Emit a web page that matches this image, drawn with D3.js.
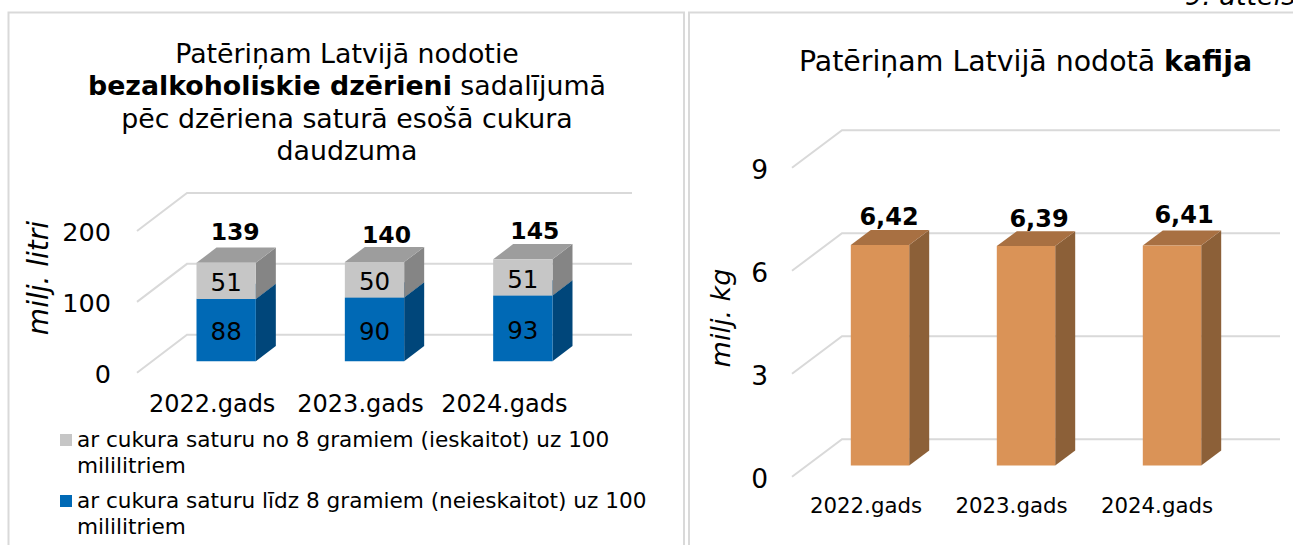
<!DOCTYPE html>
<html>
<head>
<meta charset="utf-8">
<script src="https://cdn.jsdelivr.net/npm/d3@7"></script>
<style>
  html, body { margin: 0; padding: 0; background: #fff; overflow: hidden; }
  svg { display: block; }
  text { font-family: "DejaVu Sans", Verdana, sans-serif; fill: #000; }
</style>
</head>
<body>
<svg id="chart" width="1293" height="545"></svg>
<script>
// Data
const years = ["2022.gads", "2023.gads", "2024.gads"];
const lowSugar = [88, 90, 93];
const highSugar = [51, 50, 51];
const drinkTotals = [139, 140, 145];
const coffee = [6.42, 6.39, 6.41];
const coffeeLabels = ["6,42", "6,39", "6,41"];
const drinkTicks = [0, 100, 200];
const coffeeTicks = [0, 3, 6, 9];
const legendLabels = [
  ["ar cukura saturu no 8 gramiem (ieskaitot) uz 100", "mililitriem"],
  ["ar cukura saturu līdz 8 gramiem (neieskaitot) uz 100", "mililitriem"],
];

// Hand placed labels in the source chart, pixel nudges
const totalNudge = [[0, -1], [3, 3], [3, 2]];
const coffeeNudge = [[0, -1], [4, 0], [3, -3]];

const GRID = "#d9d9d9";
const BLUE = { front: "#0069b5", side: "#00467a", top: "#00558f" };
const GREY = { front: "#c6c6c6", side: "#858585", top: "#9d9d9d" };
const ORANGE = { front: "#da9357", side: "#8c6038", top: "#a87042" };

const svg = d3.select("#chart");

// Panel frames, cut by the bottom of the page
svg.append("path")
  .attr("d", "M8.5,545V12.5H684V545")
  .attr("fill", "none").attr("stroke", GRID).attr("stroke-width", 2);
svg.append("path")
  .attr("d", "M689,545V12.5H1293")
  .attr("fill", "none").attr("stroke", GRID).attr("stroke-width", 2);

// Caption clipped by the top edge, same as the reference
svg.append("text")
  .attr("x", 1185).attr("y", 5)
  .attr("font-size", 27).attr("font-style", "italic")
  .text("9. attēls");

function title(lines, cx, size) {
  lines.forEach(({ y, parts }) => {
    const t = svg.append("text")
      .attr("x", cx).attr("y", y)
      .attr("text-anchor", "middle")
      .attr("font-size", size);
    parts.forEach(([s, bold]) => {
      t.append("tspan").attr("font-weight", bold ? "bold" : "normal").text(s);
    });
  });
}

// Excel style 3D frame: front plane plus a floor depth
function chart3d({ left, right, top, bottom, ticks, max, depthX, depthY }) {
  const x = d3.scaleBand().domain(years).range([left, right]).paddingInner(0.6).paddingOuter(0.3);
  const y = d3.scaleLinear().domain([0, max]).range([bottom, top]);
  const dx = d3.scaleLinear().domain([0, 1]).range([0, depthX]);
  const dy = d3.scaleLinear().domain([0, 1]).range([0, -depthY]);

  const grid = svg.append("g")
    .attr("fill", "none").attr("stroke", GRID).attr("stroke-width", 2);
  ticks.forEach((t) => {
    grid.append("path").attr("d", d3.line()([
      [left, y(t)],
      [left + dx(1), y(t) + dy(1)],
      [right + dx(1), y(t) + dy(1)],
    ]));
  });

  // one box between two values, bars stand from .3 to .7 of the floor depth
  const box = (g, year, from, to, colors) => {
    const x0 = x(year) + dx(0.3);
    const x1 = x0 + x.bandwidth();
    const y0 = y(from) + dy(0.3);
    const y1 = y(to) + dy(0.3);
    const ox = dx(0.7) - dx(0.3);
    const oy = dy(0.7) - dy(0.3);
    const poly = (pts, fill) => g.append("path")
      .attr("d", d3.line()(pts) + "Z").attr("fill", fill);
    poly([[x1, y0], [x1 + ox, y0 + oy], [x1 + ox, y1 + oy], [x1, y1]], colors.side);
    poly([[x0, y1], [x1, y1], [x1 + ox, y1 + oy], [x0 + ox, y1 + oy]], colors.top);
    poly([[x0, y0], [x1, y0], [x1, y1], [x0, y1]], colors.front);
    return { cx: (x0 + x1) / 2, cy: (y0 + y1) / 2, top: y1 };
  };

  return { x, y, dx, dy, box };
}

function valueAxis(scale, ticks, xPos, shift, size, format) {
  const g = svg.append("g")
    .attr("transform", `translate(${xPos},${shift})`)
    .call(d3.axisLeft(scale).tickValues(ticks).tickSize(0).tickPadding(0).tickFormat(format));
  g.select(".domain").remove();
  g.attr("font-family", null);
  g.selectAll("text").attr("font-size", size);
}

function categoryAxis(scale, yPos, size, nudge) {
  const g = svg.append("g")
    .attr("transform", `translate(0,${yPos})`)
    .call(d3.axisBottom(scale).tickSize(0).tickPadding(0));
  g.select(".domain").remove();
  g.attr("font-family", null);
  g.selectAll("text").attr("font-size", size).attr("dx", (d, i) => nudge[i]);
}

function axisTitle(label, cx, cy, size) {
  svg.append("text")
    .attr("transform", `translate(${cx},${cy}) rotate(-90)`)
    .attr("text-anchor", "middle")
    .attr("font-size", size).attr("font-style", "italic")
    .text(label);
}

// ===Left chart===
title([
  { y: 63, parts: [["Patēriņam Latvijā nodotie"]] },
  { y: 95.3, parts: [["bezalkoholiskie dzērieni", true], [" sadalījumā"]] },
  { y: 127.5, parts: [["pēc dzēriena saturā esošā cukura"]] },
  { y: 159.5, parts: [["daudzuma"]] },
], 347, 26.8);

const left = chart3d({
  left: 137, right: 582, top: 231, bottom: 372.7,
  ticks: drinkTicks, max: 200, depthX: 50, depthY: 38,
});
valueAxis(left.y, drinkTicks, 111, 1.5, 25.5, d3.format("d"));
categoryAxis(left.x, 395, 24, [1, 1, -3.5]);
axisTitle("milj. litri", 48, 278, 28);

const leftBars = svg.append("g");
years.forEach((year, i) => {
  const low = left.box(leftBars, year, 0, lowSugar[i], BLUE);
  const high = left.box(leftBars, year, lowSugar[i], lowSugar[i] + highSugar[i], GREY);
  [[low, lowSugar[i]], [high, highSugar[i]]].forEach(([b, v]) => {
    svg.append("text")
      .attr("x", b.cx).attr("y", b.cy)
      .attr("dy", "0.42em").attr("text-anchor", "middle")
      .attr("font-size", 24.5).text(v);
  });
  svg.append("text")
    .attr("x", high.cx + 9 + totalNudge[i][0]).attr("y", high.top - 22 + totalNudge[i][1])
    .attr("text-anchor", "middle")
    .attr("font-size", 23.5).attr("font-weight", "bold")
    .text(drinkTotals[i]);
});

// legend
[GREY.front, BLUE.front].forEach((color, i) => {
  const base = 434 + i * 61;
  svg.append("rect")
    .attr("x", 60).attr("y", base).attr("width", 12).attr("height", 12)
    .attr("fill", color);
  legendLabels[i].forEach((line, j) => {
    svg.append("text")
      .attr("x", 77).attr("y", base + 13 + j * 26)
      .attr("font-size", 21.6).text(line);
  });
});

// ===Right chart===
title([
  { y: 70.7, parts: [["Patēriņam Latvijā nodotā "], ["kafija", true]] },
], 1025.5, 28.4);

const right = chart3d({
  left: 792, right: 1230, top: 167.7, bottom: 476.7,
  ticks: coffeeTicks, max: 9, depthX: 50, depthY: 37.4,
});
valueAxis(right.y, coffeeTicks, 768, 2.5, 26.5, d3.format("d"));
categoryAxis(right.x, 498, 21.3, [1, 0.5, 0]);
axisTitle("milj. kg", 730, 318, 27);

const rightBars = svg.append("g");
years.forEach((year, i) => {
  const b = right.box(rightBars, year, 0, coffee[i], ORANGE);
  svg.append("text")
    .attr("x", b.cx + 9 + coffeeNudge[i][0]).attr("y", b.top - 19 + coffeeNudge[i][1])
    .attr("text-anchor", "middle")
    .attr("font-size", 24).attr("font-weight", "bold")
    .text(coffeeLabels[i]);
});
</script>
</body>
</html>
